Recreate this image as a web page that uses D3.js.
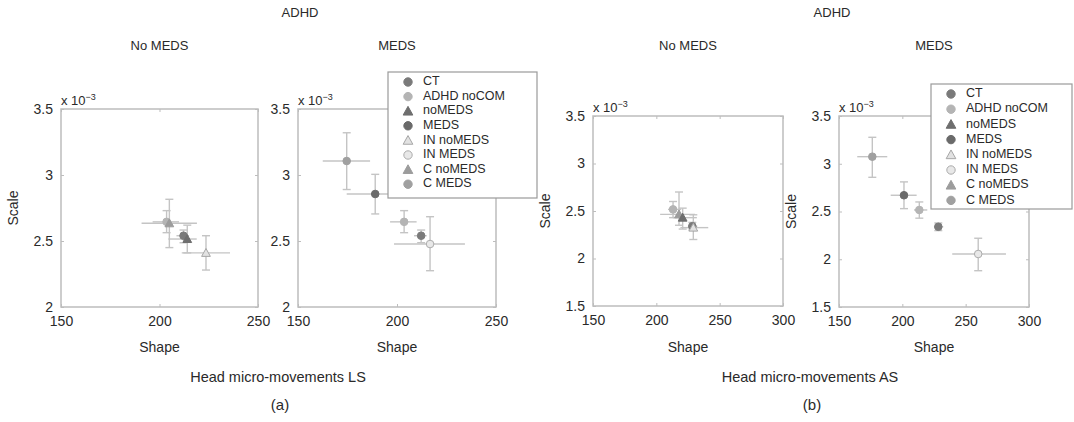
<!DOCTYPE html>
<html>
<head>
<meta charset="utf-8">
<script src="https://cdn.jsdelivr.net/npm/d3@7"></script>
<style>
  body { margin: 0; background: #fff; }
  svg text { font-family: "Liberation Sans", Arial, sans-serif; fill: #2a2a2a; }
</style>
</head>
<body>
<svg id="chart" width="1074" height="422"></svg>
<script>
// groups shown in the legend
var groups = ["CT", "ADHD noCOM", "noMEDS", "MEDS", "IN noMEDS", "IN MEDS", "C noMEDS", "C MEDS"];

// each row: group, shape, shape low, shape high, scale (x1e-3), scale low, scale high
var lsNoMeds = [
  ["ADHD noCOM", 203.6, 196.5, 209.9, 2.645, 2.563, 2.730],
  ["C noMEDS",   205.0, 190.9, 219.0, 2.634, 2.450, 2.816],
  ["CT",         212.2, 208.6, 215.0, 2.540, 2.487, 2.583],
  ["noMEDS",     214.1, 204.5, 218.9, 2.515, 2.410, 2.620],
  ["IN noMEDS",  223.6, 211.3, 235.8, 2.410, 2.280, 2.540]
];
var lsMeds = [
  ["C MEDS",     174.6, 162.5, 186.4, 3.106, 2.890, 3.320],
  ["MEDS",       189.0, 174.6, 203.2, 2.856, 2.705, 3.005],
  ["ADHD noCOM", 203.6, 196.5, 209.9, 2.645, 2.563, 2.730],
  ["CT",         212.2, 208.6, 215.0, 2.540, 2.487, 2.583],
  ["IN MEDS",    216.7, 198.5, 234.3, 2.477, 2.275, 2.684]
];
var asNoMeds = [
  ["ADHD noCOM", 213.2, 209.2, 219.7, 2.517, 2.430, 2.600],
  ["C noMEDS",   217.9, 203.0, 230.5, 2.465, 2.350, 2.700],
  ["noMEDS",     220.8, 213.0, 232.0, 2.430, 2.310, 2.530],
  ["CT",         228.4, 225.0, 232.3, 2.340, 2.300, 2.380],
  ["IN noMEDS",  229.2, 219.0, 241.0, 2.325, 2.200, 2.460]
];
var asMeds = [
  ["C MEDS",     176.3, 164.4, 188.1, 3.074, 2.858, 3.277],
  ["MEDS",       201.3, 190.8, 211.3, 2.670, 2.530, 2.810],
  ["ADHD noCOM", 213.4, 209.2, 219.7, 2.516, 2.430, 2.600],
  ["CT",         228.4, 225.0, 232.3, 2.340, 2.300, 2.380],
  ["IN MEDS",    259.9, 239.4, 281.8, 2.055, 1.880, 2.220]
];

var ticksLSx = [150, 200, 250], ticksLSy = [2, 2.5, 3, 3.5];
var ticksASx = [150, 200, 250, 300], ticksASy = [1.5, 2, 2.5, 3, 3.5];

var headTitles = ["ADHD", "ADHD"];
var footTitles = ["Head micro-movements LS", "Head micro-movements AS"];
var subLabels = ["(a)", "(b)"];

// marker look per group
var style = {
  "CT":         {shape: "circle",   fill: "#7a7a7a", stroke: "#7a7a7a"},
  "ADHD noCOM": {shape: "circle",   fill: "#b4b4b4", stroke: "#b4b4b4"},
  "noMEDS":     {shape: "triangle", fill: "#6e6e6e", stroke: "#6e6e6e"},
  "MEDS":       {shape: "circle",   fill: "#6a6a6a", stroke: "#6a6a6a"},
  "IN noMEDS":  {shape: "triangle", fill: "#e2e2e2", stroke: "#a6a6a6"},
  "IN MEDS":    {shape: "circle",   fill: "#e8e8e8", stroke: "#acacac"},
  "C noMEDS":   {shape: "triangle", fill: "#9c9c9c", stroke: "#9c9c9c"},
  "C MEDS":     {shape: "circle",   fill: "#a0a0a0", stroke: "#a0a0a0"}
};

var svg = d3.select("#chart");
var boxColor = "#bdbdbd", barColor = "#c4c4c4";

function marker(sel, g, cx, cy, r){
  var st = style[g];
  if(st.shape == "circle"){
    sel.append("circle").attr("cx", cx).attr("cy", cy).attr("r", r)
      .attr("fill", st.fill).attr("stroke", st.stroke).attr("stroke-width", 1);
  } else {
    var h = r * 1.15;
    sel.append("path")
      .attr("d", "M" + cx + "," + (cy - h) + "L" + (cx + h) + "," + (cy + h * 0.8) + "L" + (cx - h) + "," + (cy + h * 0.8) + "Z")
      .attr("fill", st.fill).attr("stroke", st.stroke).attr("stroke-width", 1);
  }
}

function panel(box, xdom, ydom, xt, yt, rows, title, showYLabel){
  var x = d3.scaleLinear().domain(xdom).range([box.x0, box.x1]);
  var y = d3.scaleLinear().domain(ydom).range([box.y1, box.y0]);
  var g = svg.append("g");

  g.append("rect").attr("x", box.x0).attr("y", box.y0)
    .attr("width", box.x1 - box.x0).attr("height", box.y1 - box.y0)
    .attr("fill", "none").attr("stroke", boxColor).attr("stroke-width", 1.5);

  // axes with inward ticks on all four sides
  var axB = g.append("g").attr("transform", "translate(0," + box.y1 + ")")
    .call(d3.axisBottom(x).tickValues(xt).tickSize(-3).tickPadding(9).tickFormat(d3.format("d")));
  var axT = g.append("g").attr("transform", "translate(0," + box.y0 + ")")
    .call(d3.axisTop(x).tickValues(xt).tickSize(-3).tickFormat(""));
  var axL = g.append("g").attr("transform", "translate(" + box.x0 + ",0)")
    .call(d3.axisLeft(y).tickValues(yt).tickSize(-3).tickPadding(8).tickFormat(function(d){ return d3.format("")(d); }));
  var axR = g.append("g").attr("transform", "translate(" + box.x1 + ",0)")
    .call(d3.axisRight(y).tickValues(yt).tickSize(-3).tickFormat(""));
  [axB, axT, axL, axR].forEach(function(a){
    a.select(".domain").remove();
    a.selectAll(".tick line").attr("stroke", boxColor).attr("stroke-width", 1);
    a.selectAll("text").attr("font-size", 14).attr("fill", "#2a2a2a")
      .attr("font-family", "Liberation Sans, Arial, sans-serif");
  });

  // multiplier
  var mult = g.append("text").attr("x", box.x0).attr("y", box.y0 - 4).attr("font-size", 13);
  mult.append("tspan").text("x 10");
  mult.append("tspan").attr("dy", -5).attr("font-size", 9).text("\u22123");

  g.append("text").attr("x", (box.x0 + box.x1) / 2).attr("y", 47)
    .attr("text-anchor", "middle").attr("dominant-baseline", "middle").attr("font-size", 13).text(title);
  g.append("text").attr("x", (box.x0 + box.x1) / 2).attr("y", 348)
    .attr("text-anchor", "middle").attr("dominant-baseline", "middle").attr("font-size", 14).text("Shape");
  if(showYLabel){
    var lx = box.x0 - 47;
    g.append("text").attr("transform", "translate(" + lx + "," + ((box.y0 + box.y1) / 2) + ") rotate(-90)")
      .attr("text-anchor", "middle").attr("dominant-baseline", "middle").attr("font-size", 14).text("Scale");
  }

  // error bars
  var eb = g.append("g").attr("stroke", barColor).attr("stroke-width", 1.4).attr("fill", "none");
  rows.forEach(function(r){
    var cx = x(r[1]), cy = y(r[4]);
    eb.append("line").attr("x1", x(r[2])).attr("x2", x(r[3])).attr("y1", cy).attr("y2", cy);
    eb.append("line").attr("x1", cx).attr("x2", cx).attr("y1", y(r[5])).attr("y2", y(r[6]));
    eb.append("line").attr("x1", cx - 4).attr("x2", cx + 4).attr("y1", y(r[5])).attr("y2", y(r[5]));
    eb.append("line").attr("x1", cx - 4).attr("x2", cx + 4).attr("y1", y(r[6])).attr("y2", y(r[6]));
  });
  var mk = g.append("g");
  rows.forEach(function(r){ marker(mk, r[0], x(r[1]), y(r[4]), 3.8); });
}

function legend(lx, ly, w, h, step){
  var g = svg.append("g");
  g.append("rect").attr("x", lx).attr("y", ly).attr("width", w).attr("height", h)
    .attr("fill", "#fff").attr("stroke", "#9a9a9a").attr("stroke-width", 1.2);
  groups.forEach(function(name, i){
    var yy = ly + 10 + i * step;
    marker(g, name, lx + 20, yy, 4.2);
    g.append("text").attr("x", lx + 35).attr("y", yy).attr("dominant-baseline", "middle")
      .attr("font-size", 12.5).text(name);
  });
}

panel({x0: 61, x1: 258, y0: 109, y1: 307}, [150, 250], [2, 3.5], ticksLSx, ticksLSy, lsNoMeds, "No MEDS", true);
panel({x0: 298, x1: 496, y0: 109, y1: 307}, [150, 250], [2, 3.5], ticksLSx, ticksLSy, lsMeds, "MEDS", false);
panel({x0: 593, x1: 783, y0: 116, y1: 306}, [150, 300], [1.5, 3.5], ticksASx, ticksASy, asNoMeds, "No MEDS", true);
panel({x0: 839, x1: 1029, y0: 116, y1: 307}, [150, 300], [1.5, 3.5], ticksASx, ticksASy, asMeds, "MEDS", true);

legend(388, 72, 149, 126, 14.6);
legend(931, 84, 141, 125, 15.2);

var headCenters = [300, 832], footCenters = [278, 810];
headTitles.forEach(function(t, i){
  svg.append("text").attr("x", headCenters[i]).attr("y", 14).attr("text-anchor", "middle")
    .attr("dominant-baseline", "middle").attr("font-size", 13).text(t);
});
footTitles.forEach(function(t, i){
  svg.append("text").attr("x", footCenters[i]).attr("y", 378).attr("text-anchor", "middle")
    .attr("dominant-baseline", "middle").attr("font-size", 14.5).text(t);
  svg.append("text").attr("x", footCenters[i] + 2).attr("y", 406).attr("text-anchor", "middle")
    .attr("dominant-baseline", "middle").attr("font-size", 15).text(subLabels[i]);
});
</script>
</body>
</html>
